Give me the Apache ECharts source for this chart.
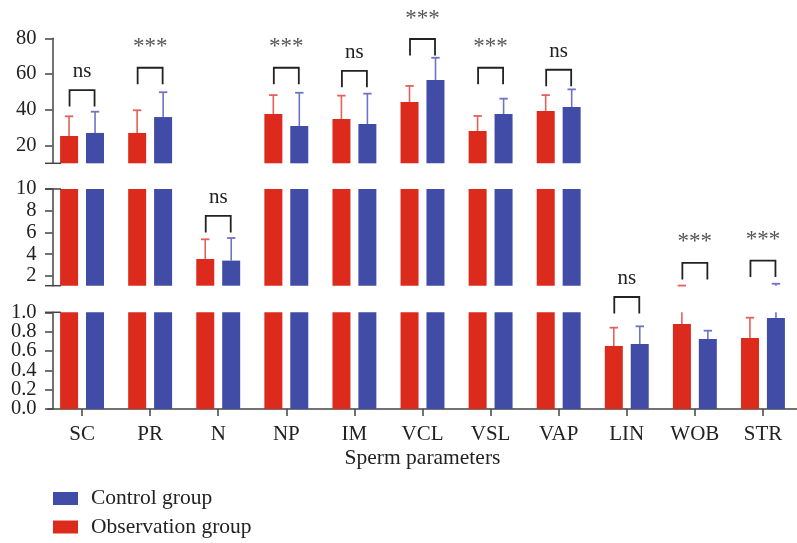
<!DOCTYPE html>
<html>
<head>
<meta charset="utf-8">
<script src="https://cdn.jsdelivr.net/npm/echarts@6/dist/echarts.min.js"></script>
<style>
html,body{margin:0;padding:0;background:#fff;}
#main{width:797px;height:543px;}
</style>
</head>
<body>
<div id="main"></div>
<script>
// ---- data ----
const categories = ['SC','PR','N','NP','IM','VCL','VSL','VAP','LIN','WOB','STR'];
const obsMean  = [25.3, 27.0, 3.56, 37.6, 34.8, 44.3, 28.1, 39.3, 0.651, 0.879, 0.734];
const obsSD    = [11.0, 12.7, 1.81, 10.6, 13.1, 9.0, 8.4, 8.9, 0.19, 0.231, 0.21];
const ctrlMean = [27.0, 35.9, 3.41, 30.9, 32.0, 56.6, 37.6, 41.5, 0.672, 0.724, 0.941];
const ctrlSD   = [11.9, 13.9, 2.08, 18.6, 17.0, 12.5, 8.6, 9.9, 0.183, 0.086, 0.34];
const sigLabel = ['ns','***','ns','***','ns','***','***','ns','ns','***','***'];
const sigLevel = [51.0, 63.5, 7.52, 63.5, 61.8, 79.6, 63.5, 62.4, 1.158, 3.20, 3.41];
const sigPanel = [0, 0, 1, 0, 0, 0, 0, 0, 2, 1, 1];
const panelMin = [10, 1.1, 0];
const panelMax = [80, 10, 1];
// bottom-panel tick labels, split into two interleaved sets
const lowLabelsA = [0, 0.8];   // 0.0, 0.4, 0.8
const lowLabelsB = [0.2, 1.0]; // 0.2, 0.6, 1.0

// ---- styles ----
const FONT = 'Liberation Serif';
const RED = '#DC2B1D', BLUE = '#414CA6';
const RED_ERR = '#E4605A', BLUE_ERR = '#6E74C2';
const AX = '#444';
const grids = [
  {left: 48, width: 758.5, top: 38.3, height: 125},
  {left: 48, width: 758.5, top: 189, height: 96.7},
  {left: 48, width: 758.5, top: 312.3, height: 96.7}
];
// helper grids for the bottom-panel labels (same pixel scale as grid 2)
const g2 = grids[2], pxPerUnit = g2.height / (panelMax[2] - panelMin[2]);
function subGrid(lo, hi) {
  return {left: g2.left, width: g2.width,
    top: g2.top + (panelMax[2] - hi) * pxPerUnit, height: (hi - lo) * pxPerUnit};
}
grids.push(subGrid(lowLabelsA[0], lowLabelsA[1]));
grids.push(subGrid(lowLabelsB[0], lowLabelsB[1]));
const BAR_OFF = 13;

const chart = echarts.init(document.getElementById('main'), null, {renderer: 'canvas'});

function errRender(k, off, color) {
  const lo = panelMin[k], hi = panelMax[k];
  return function (params, api) {
    const i = api.value(0), m = api.value(1), top = api.value(2);
    const a = Math.max(m, lo), b = Math.min(top, hi);
    const children = [];
    const x = api.coord([i, lo])[0] + off;
    if (b > a + 1e-9) {
      const y1 = api.coord([i, a])[1], y2 = api.coord([i, b])[1];
      children.push({type: 'line', shape: {x1: x, y1: y1, x2: x, y2: y2},
        style: {stroke: color, lineWidth: 1.6}});
    }
    if (top >= lo - 1e-9 && top <= hi + 1e-9) {
      const yc = api.coord([i, top])[1];
      children.push({type: 'line', shape: {x1: x - 4.2, y1: yc, x2: x + 4.2, y2: yc},
        style: {stroke: color, lineWidth: 1.8}});
    }
    return {type: 'group', children: children};
  };
}

function sigRender(params, api) {
  const i = api.value(0), lv = api.value(1);
  const p = api.coord([i, lv]);
  const x1 = p[0] - 12.5, x2 = p[0] + 12.5, y = p[1];
  const txt = sigLabel[i];
  const isNs = txt === 'ns';
  return {type: 'group', children: [
    {type: 'polyline', shape: {points: [[x1, y + 16.5], [x1, y], [x2, y], [x2, y + 16.5]]},
      style: {stroke: '#222', lineWidth: 1.8, fill: null}},
    {type: 'text', x: p[0], y: isNs ? y - 8 : y - 9,
      style: {text: txt, fill: isNs ? '#222' : '#555',
        font: (isNs ? '21px "' : '23px "') + FONT + '"',
        align: 'center', verticalAlign: 'bottom'}}
  ]};
}

const labelStyle = {margin: 16, color: '#222', fontFamily: FONT, fontSize: 20.5};
const xAxes = [], yAxes = [], series = [];
for (let k = 0; k < 3; k++) {
  const last = k === 2;
  xAxes.push({
    type: 'category', gridIndex: k, data: categories, show: last,
    axisLine: {show: last, lineStyle: {color: AX, width: 1.5}},
    axisTick: {show: last, alignWithLabel: true, length: 7, lineStyle: {color: AX, width: 1.5}},
    axisLabel: {show: last, margin: 15, color: '#222', fontFamily: FONT, fontSize: 21},
    name: last ? 'Sperm parameters' : '', nameLocation: 'middle', nameGap: 38,
    nameTextStyle: {color: '#222', fontFamily: FONT, fontSize: 21.5}
  });
  const y = {
    type: 'value', gridIndex: k, min: panelMin[k], max: panelMax[k], offset: -4.5,
    splitLine: {show: false},
    axisLine: {show: true, lineStyle: {color: AX, width: 1.5}},
    axisTick: {show: true, length: 7.5, lineStyle: {color: AX, width: 1.5}},
    axisLabel: Object.assign({showMinLabel: true, showMaxLabel: true}, labelStyle)
  };
  if (k === 0) { y.minInterval = 20; y.maxInterval = 20; y.axisLabel.showMinLabel = false; }
  if (k === 1) { y.minInterval = 2; y.maxInterval = 2; y.axisLabel.showMinLabel = false; }
  if (k === 2) { y.interval = 0.2; y.axisLabel = {show: false}; }
  yAxes.push(y);

  series.push({
    type: 'bar', name: 'Observation group', xAxisIndex: k, yAxisIndex: k,
    data: obsMean, barWidth: 18, barGap: '44%', clip: true,
    itemStyle: {color: RED}
  });
  series.push({
    type: 'bar', name: 'Control group', xAxisIndex: k, yAxisIndex: k,
    data: ctrlMean, barWidth: 18, barGap: '44%', clip: true,
    itemStyle: {color: BLUE}
  });
  series.push({
    type: 'custom', xAxisIndex: k, yAxisIndex: k, clip: false, z: 5,
    renderItem: errRender(k, -BAR_OFF, RED_ERR),
    data: obsMean.map((m, i) => [i, m, m + obsSD[i]])
  });
  series.push({
    type: 'custom', xAxisIndex: k, yAxisIndex: k, clip: false, z: 5,
    renderItem: errRender(k, BAR_OFF, BLUE_ERR),
    data: ctrlMean.map((m, i) => [i, m, m + ctrlSD[i]])
  });
  const sigData = [];
  categories.forEach((c, i) => { if (sigPanel[i] === k) sigData.push([i, sigLevel[i]]); });
  series.push({
    type: 'custom', xAxisIndex: k, yAxisIndex: k, clip: false, z: 6,
    renderItem: sigRender, data: sigData
  });
}
// label-only axes for the bottom panel
[lowLabelsA, lowLabelsB].forEach(function (r, j) {
  const gi = 3 + j;
  xAxes.push({type: 'category', gridIndex: gi, data: categories, show: false});
  yAxes.push({
    type: 'value', gridIndex: gi, min: r[0], max: r[1], interval: 0.4, offset: -4.5,
    splitLine: {show: false}, axisLine: {show: false}, axisTick: {show: false},
    axisLabel: Object.assign({showMinLabel: true, showMaxLabel: true,
      formatter: v => v.toFixed(1)}, labelStyle)
  });
});

chart.setOption({
  animation: false,
  backgroundColor: '#fff',
  textStyle: {fontFamily: FONT},
  grid: grids,
  xAxis: xAxes,
  yAxis: yAxes,
  legend: {
    orient: 'vertical', left: 53, top: 487.5, height: 80, padding: 0,
    itemWidth: 25, itemHeight: 13, itemGap: 6.5,
    icon: 'rect', data: ['Control group', 'Observation group'],
    textStyle: {color: '#222', fontFamily: FONT, fontSize: 21.5, lineHeight: 22, padding: [0, 0, 0, 8]}
  },
  series: series
});

// axis break marks at the panel boundaries
const breaks = [];
const axisX = grids[0].left + 4.5;
[[0, panelMin[0]], [1, panelMax[1]], [1, panelMin[1]], [2, panelMax[2]]].forEach(function (b) {
  const yy = chart.convertToPixel({yAxisIndex: b[0]}, b[1]);
  breaks.push({type: 'line', shape: {x1: axisX - 7.5, y1: yy, x2: axisX + 8.5, y2: yy},
    style: {stroke: AX, lineWidth: 1.5}, z: 10});
});
chart.setOption({graphic: breaks});
</script>
</body>
</html>
